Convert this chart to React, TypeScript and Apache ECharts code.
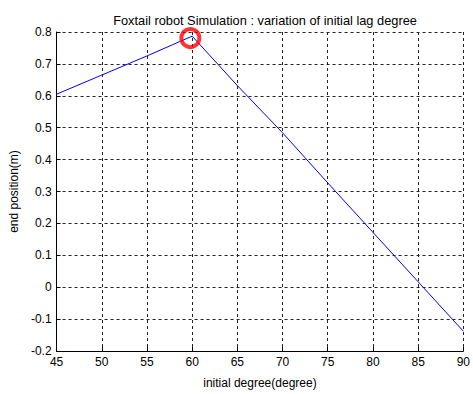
import React, { useEffect, useRef } from "react";
import * as echarts from "echarts";

const degrees = [45, 50, 55, 60, 65, 70, 75, 80, 85, 90];
const endPosition = [0.605, 0.665, 0.725, 0.787, 0.632, 0.484, 0.327, 0.172, 0.017, -0.138];
const highlight = [[59.8, 0.781]];
const titleText = "Foxtail robot Simulation : variation of initial lag degree";
const xName = "initial degree(degree)";
const yName = "end position(m)";

export default function App() {
  const ref = useRef<HTMLDivElement>(null);
  useEffect(() => {
    const chart = echarts.init(ref.current!, null, { renderer: "svg" });
    const font = "Liberation Sans";
    chart.setOption({
      animation: false,
      backgroundColor: "#ffffff",
      title: {
        text: titleText,
        left: 260,
        textAlign: "center",
        top: 9,
        textStyle: { fontFamily: font, fontSize: 12.8, fontWeight: "normal", color: "#000" },
      },
      grid: { left: 53.5, right: 7, top: 32, bottom: 37, containLabel: false },
      xAxis: {
        type: "value",
        min: 45,
        max: 90,
        interval: 5,
        name: xName,
        nameLocation: "middle",
        nameGap: 26,
        nameTextStyle: { fontFamily: font, fontSize: 12, color: "#000" },
        axisLine: { onZero: false, lineStyle: { color: "#000", width: 1 } },
        axisTick: { inside: true, length: 4, lineStyle: { color: "#000" } },
        axisLabel: { fontFamily: font, fontSize: 12, color: "#000", margin: 5 },
        splitLine: { show: true, lineStyle: { color: "#222", type: [3, 3], width: 1 } },
      },
      yAxis: {
        type: "value",
        min: -0.2,
        max: 0.8,
        interval: 0.1,
        name: yName,
        nameLocation: "middle",
        nameGap: 36,
        nameTextStyle: { fontFamily: font, fontSize: 12, color: "#000" },
        axisLine: { show: true, onZero: false, lineStyle: { color: "#000", width: 1 } },
        axisTick: { show: true, inside: true, length: 4, lineStyle: { color: "#000" } },
        axisLabel: {
          fontFamily: font,
          fontSize: 12,
          color: "#000",
          margin: 5,
          formatter: (v: number) => {
            const r = Math.round(v * 10) / 10;
            return r === 0 ? "0" : r.toFixed(1);
          },
        },
        splitLine: { show: true, lineStyle: { color: "#222", type: [3, 3], width: 1 } },
      },
      series: [
        {
          type: "line",
          data: degrees.map((d, i) => [d, endPosition[i]]),
          showSymbol: false,
          lineStyle: { color: "#0000ff", width: 1 },
          z: 3,
        },
        {
          type: "scatter",
          data: highlight,
          symbol: "circle",
          symbolSize: 18,
          itemStyle: { color: "transparent", borderColor: "#ff0000", borderWidth: 4 },
          z: 4,
        },
      ],
    });
    return () => chart.dispose();
  }, []);
  return <div ref={ref} style={{ width: 473, height: 394, position: "absolute", left: 0, top: 0 }} />;
}
